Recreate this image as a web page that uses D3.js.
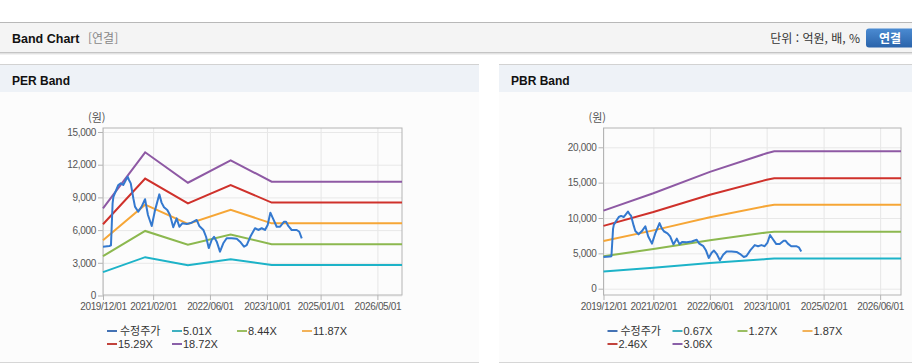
<!DOCTYPE html>
<html lang="ko">
<head>
<meta charset="utf-8"/>
<title>Band Chart</title>
<script src="https://d3js.org/d3.v7.min.js"></script>
<style>
  body { margin: 0; background: #fff; }
  svg text { font-family: "Liberation Sans", "Noto Sans CJK KR", sans-serif; }
  .kr { font-family: "Noto Sans CJK KR", "Liberation Sans", sans-serif; }
</style>
</head>
<body>
<svg id="page" width="912" height="364"></svg>
<script>
// ---- data ----
const priceDates = ["2019-12-01","2020-01-24","2020-02-07","2020-02-21","2020-02-28","2020-04-10","2020-04-30","2020-05-22","2020-06-28","2020-07-10",
  "2020-07-25","2020-08-16","2020-08-30","2020-09-27","2020-10-26","2020-11-24","2020-12-19","2021-01-20","2021-02-17","2021-03-26",
  "2021-04-14","2021-05-05","2021-06-02","2021-06-25","2021-07-23","2021-08-21","2021-09-13","2021-10-08","2021-11-15","2021-12-27",
  "2022-02-08","2022-03-02","2022-04-06","2022-04-29","2022-05-22","2022-06-16","2022-07-06","2022-07-29","2022-08-26","2022-09-23",
  "2022-10-22","2022-12-04","2023-01-16","2023-02-13","2023-03-19","2023-04-11","2023-05-15","2023-06-21","2023-07-19","2023-08-17",
  "2023-09-14","2023-10-07","2023-10-30","2023-11-24","2023-12-23","2024-01-21","2024-02-24","2024-03-12","2024-03-31","2024-04-29",
  "2024-06-11","2024-07-03","2024-07-24"];
const priceValues = [4480,4540,4600,8460,9060,10140,10290,10140,10900,10600,
  10290,8920,8150,7690,8150,8830,7390,6380,7810,9280,
  8520,8090,7840,7390,6260,7080,6310,6620,6560,6680,
  6930,6380,6010,5390,4350,5090,5390,4940,4020,4790,
  5250,5250,5200,4940,4480,4630,5460,6170,6010,6170,
  6010,6470,7600,7000,6310,6310,6770,6770,6380,6010,
  6010,5850,5250];

const perDates = ["2019-12-01","2020-11-25","2021-11-25","2022-11-25","2023-11-10","2026-11-27"];
const perLabels = ["5.01X","8.44X","11.87X","15.29X","18.72X"];
const per501  = [2141,3516,2770,3320,2794,2794];
const per844  = [3607,5923,4666,5592,4707,4707];
const per1187 = [5073,8330,6562,7865,6620,6620];
const per1529 = [6535,10731,8452,10131,8527,8527];
const per1872 = [8001,13138,10348,12404,10440,10440];
const perYTicks = [0,3000,6000,9000,12000,15000];
const perXTicks = ["2019-12-01","2021-02-01","2022-06-01","2023-10-01","2025-01-01","2026-05-01"];

const pbrDates = ["2019-12-01","2021-02-01","2022-06-01","2023-10-01","2023-12-05","2026-11-27"];
const pbrLabels = ["0.67X","1.27X","1.87X","2.46X","3.06X"];
const pbr067 = [2419,2955,3618,4194,4255,4255];
const pbr127 = [4585,5601,6858,7950,8065,8065];
const pbr187 = [6751,8247,10098,11706,11875,11875];
const pbr246 = [8881,10849,13284,15400,15621,15621];
const pbr306 = [11047,13495,16524,19156,19431,19431];
const pbrYTicks = [0,5000,10000,15000,20000];
const pbrXTicks = ["2019-12-01","2021-02-01","2022-06-01","2023-10-01","2025-02-01","2026-06-01"];

const xStart = "2019-12-01", xEnd = "2026-11-27";

const lineColors = ["#3479cf","#1db3c8","#8cb84f","#f6a636","#cf312b","#8e59a4"];
const keyColors  = ["#4472b4","#3fb0c0","#9bbe62","#f2b25a","#c2433c","#8a60a8"];

const parse = d3.timeParse("%Y-%m-%d");
const svg = d3.select("#page");

// ---- page frame ----
svg.append("rect").attr("x",0).attr("y",0).attr("width",912).attr("height",364).attr("fill","#fff");
svg.append("rect").attr("x",0).attr("y",22).attr("width",912).attr("height",31).attr("fill","#f4f4f4");
svg.append("line").attr("x1",0).attr("x2",912).attr("y1",22.5).attr("y2",22.5).attr("stroke","#b8b8b8");
svg.append("line").attr("x1",0).attr("x2",912).attr("y1",52.5).attr("y2",52.5).attr("stroke","#c4c4c4");
svg.append("line").attr("x1",0).attr("x2",912).attr("y1",53.5).attr("y2",53.5).attr("stroke","#e2e2e2");
svg.append("line").attr("x1",0).attr("x2",912).attr("y1",54.5).attr("y2",54.5).attr("stroke","#f2f2f2");
svg.append("text").attr("x",12).attr("y",42.5).attr("font-size","12.5px").attr("font-weight","bold").attr("fill","#111").text("Band Chart");
svg.append("text").attr("class","kr").attr("x",88).attr("y",42.5).attr("font-size","12px").attr("fill","#888").text("[연결]");
svg.append("text").attr("class","kr").attr("x",860).attr("y",42.5).attr("text-anchor","end").attr("font-size","12px").attr("fill","#333").text("단위 : 억원, 배, %");

const grad = svg.append("defs").append("linearGradient").attr("id","btn").attr("x1",0).attr("x2",0).attr("y1",0).attr("y2",1);
grad.append("stop").attr("offset","0%").attr("stop-color","#4b8bd2");
grad.append("stop").attr("offset","100%").attr("stop-color","#2a63aa");
svg.append("rect").attr("x",866).attr("y",28.5).attr("width",50).attr("height",19).attr("rx",3).attr("fill","url(#btn)");
svg.append("text").attr("class","kr").attr("x",890).attr("y",42.5).attr("text-anchor","middle").attr("font-size","12px").attr("font-weight","bold").attr("fill","#fff").text("연결");

function panel(x, w, title) {
  svg.append("rect").attr("x",x).attr("y",64).attr("width",w).attr("height",298).attr("fill","#fcfcfc");
  svg.append("rect").attr("x",x).attr("y",64).attr("width",w).attr("height",28).attr("fill","#eef2f7");
  svg.append("line").attr("x1",x).attr("x2",x+w).attr("y1",64.5).attr("y2",64.5).attr("stroke","#d2d2d2");
  svg.append("line").attr("x1",x).attr("x2",x+w).attr("y1",362.5).attr("y2",362.5).attr("stroke","#d6d6d6");
  svg.append("text").attr("x",x+12).attr("y",84.5).attr("font-size","12px").attr("font-weight","bold").attr("fill","#111").text(title);
}

function drawChart(o) {
  const x = d3.scaleTime().domain([parse(xStart), parse(xEnd)]).range([o.left, o.right]);
  const y = d3.scaleLinear().domain([0, o.yMax]).range([o.yZero, o.yTop]);
  const g = svg.append("g");

  // grid
  g.append("g").attr("transform", `translate(0,${o.top})`)
    .call(d3.axisBottom(x).tickValues(o.xTicks.map(parse)).tickSize(o.bottom - o.top).tickFormat(""))
    .call(a => a.select(".domain").remove())
    .selectAll("line").attr("stroke","#e6e6e6");
  g.append("g").attr("transform", `translate(${o.left},0)`)
    .call(d3.axisRight(y).tickValues(o.yTicks).tickSize(o.right - o.left).tickFormat(""))
    .call(a => a.select(".domain").remove())
    .selectAll("line").attr("stroke","#e8e8e8");

  // box
  g.append("rect").attr("x",o.left).attr("y",o.top).attr("width",o.right - o.left).attr("height",o.bottom - o.top)
    .attr("fill","none").attr("stroke","#b4b4b4");

  // axes
  const xa = g.append("g").attr("transform", `translate(0,${o.bottom})`)
    .call(d3.axisBottom(x).tickValues(o.xTicks.map(parse)).tickSize(5).tickPadding(3).tickFormat(d3.timeFormat("%Y/%m/%d")));
  xa.select(".domain").remove();
  xa.selectAll("line").attr("stroke","#b4b4b4");
  xa.selectAll("text").attr("fill","#555").attr("font-size","10px").attr("letter-spacing","-0.35px")
    .attr("font-family","'Liberation Sans', sans-serif");

  const ya = g.append("g").attr("transform", `translate(${o.left},0)`)
    .call(d3.axisLeft(y).tickValues(o.yTicks).tickSize(5).tickPadding(2).tickFormat(d3.format(",")));
  ya.select(".domain").remove();
  ya.selectAll("line").attr("stroke","#b4b4b4");
  ya.selectAll("text").attr("fill","#555").attr("font-size","10px").attr("letter-spacing","-0.3px")
    .attr("font-family","'Liberation Sans', sans-serif");

  g.append("text").attr("class","kr").attr("x",o.left - 15).attr("y",122).attr("font-size","11px").attr("fill","#555").text("(원)");

  // lines
  const line = d3.line().x(d => x(d[0])).y(d => y(d[1]));
  o.bands.forEach((vals, i) => {
    g.append("path").datum(o.bandDates.map((d, k) => [parse(d), vals[k]]))
      .attr("d", line).attr("fill","none").attr("stroke", lineColors[i + 1]).attr("stroke-width",2);
  });
  g.append("path").datum(priceDates.map((d, k) => [parse(d), priceValues[k]]))
    .attr("d", line).attr("fill","none").attr("stroke", lineColors[0]).attr("stroke-width",2).attr("stroke-linejoin","round");

  // legend
  const names = ["수정주가"].concat(o.labels);
  names.forEach((n, i) => {
    const cx = o.left + 4 + (i % 4) * 65;
    const cy = i < 4 ? 331 : 344;
    g.append("line").attr("x1",cx).attr("x2",cx + 10).attr("y1",cy).attr("y2",cy)
      .attr("stroke", keyColors[i]).attr("stroke-width",2);
    g.append("text").attr("class", i === 0 ? "kr" : null).attr("x", cx + (i === 0 ? 13 : 11)).attr("y", cy + 4)
      .attr("font-size","11px").attr("fill","#333").text(n);
  });
}

panel(0, 479, "PER Band");
panel(499, 413, "PBR Band");

drawChart({
  left: 103, right: 402, top: 128, bottom: 295,
  yMax: 15000, yZero: 295.5, yTop: 132,
  yTicks: perYTicks, xTicks: perXTicks,
  bandDates: perDates, bands: [per501, per844, per1187, per1529, per1872], labels: perLabels
});

drawChart({
  left: 603.5, right: 901, top: 128, bottom: 295,
  yMax: 20000, yZero: 288.7, yTop: 147.3,
  yTicks: pbrYTicks, xTicks: pbrXTicks,
  bandDates: pbrDates, bands: [pbr067, pbr127, pbr187, pbr246, pbr306], labels: pbrLabels
});
</script>
</body>
</html>
